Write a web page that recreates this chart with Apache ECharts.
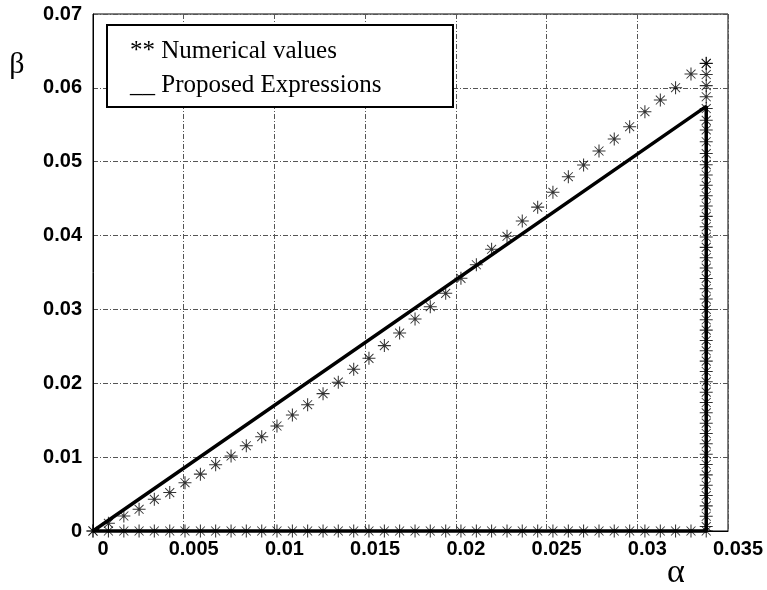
<!DOCTYPE html>
<html>
<head>
<meta charset="utf-8">
<script src="https://cdn.jsdelivr.net/npm/echarts@6/dist/echarts.min.js"></script>
<style>
  html, body { margin: 0; padding: 0; background: #fff; }
  #chart { width: 767px; height: 590px; }
</style>
</head>
<body>
<div id="chart"></div>
<script>
// alpha sample positions shared by the numerical curve and the bottom edge
const alphaSamples = [0, 0.00085, 0.0017, 0.00254, 0.00338, 0.00423, 0.00507, 0.00592, 0.00676, 0.00761,
  0.00845, 0.0093, 0.01014, 0.01099, 0.01183, 0.01268, 0.01352, 0.01437, 0.01521, 0.01606,
  0.0169, 0.01775, 0.01859, 0.01944, 0.02028, 0.02113, 0.02197, 0.02282, 0.02366, 0.02451,
  0.02535, 0.0262, 0.02704, 0.02789, 0.02873, 0.02958, 0.03042, 0.03127, 0.03211, 0.03296, 0.0338];

// numerical beta values along the upper boundary
const betaNumerical = [0, 0.00104, 0.00203, 0.00294, 0.00429, 0.0052, 0.00654, 0.0077, 0.00898, 0.01015,
  0.01155, 0.01277, 0.01422, 0.01571, 0.0171, 0.0186, 0.02015, 0.02189, 0.02338, 0.0251,
  0.0268, 0.0287, 0.03037, 0.03218, 0.03421, 0.03605, 0.03814, 0.0399, 0.04197, 0.04385,
  0.04586, 0.04797, 0.04955, 0.05145, 0.05307, 0.05474, 0.05677, 0.05835, 0.06002, 0.06187, 0.06332];

// numerical points on the right edge (alpha = alphaMax)
const alphaMax = 0.0338;
const betaRightEdge = [0.0633, 0.0618, 0.0603, 0.0588, 0.0572, 0.0556, 0.0543, 0.0527, 0.0511, 0.0496,
  0.0482, 0.0468, 0.0454, 0.044, 0.0426, 0.0412, 0.0398, 0.0384, 0.037, 0.0356,
  0.0342, 0.0328, 0.0314, 0.03, 0.0286, 0.0272, 0.0258, 0.0244, 0.023, 0.0216,
  0.0202, 0.0188, 0.0174, 0.016, 0.0146, 0.0132, 0.0118, 0.0104, 0.009, 0.0076,
  0.0062, 0.0048, 0.0034, 0.002, 0.0006];

// proposed expression: closed boundary
const proposedAlpha = [0, 0.0338, 0.0338, 0];
const proposedBeta = [0, 0.0575, 0, 0];

// axis ranges and tick steps
const xTicks = { min: 0, max: 0.035, step: 0.005 };
const yTicks = { min: 0, max: 0.07, step: 0.01 };

const numericalPoints = [];
alphaSamples.forEach((a, i) => numericalPoints.push([a, betaNumerical[i]]));
alphaSamples.forEach(a => numericalPoints.push([a, 0]));
betaRightEdge.forEach(b => numericalPoints.push([alphaMax, b]));

const proposedPoints = proposedAlpha.map((a, i) => [a, proposedBeta[i]]);

// eight-armed asterisk marker
const starPath = 'path://M0 9.2L20 9.2L20 10.8L0 10.8Z' +
  'M9.2 0L10.8 0L10.8 20L9.2 20Z' +
  'M3.6 2.6L17.4 16.4L16.4 17.4L2.6 3.6Z' +
  'M16.4 2.6L17.4 3.6L3.6 17.4L2.6 16.4Z' +
  'M7.8 7.8L12.2 7.8L12.2 12.2L7.8 12.2Z';

const gridLine = { color: '#555', width: 1, type: [5, 2, 1, 2] };
const tickFont = { fontFamily: '"Liberation Sans", Arial, sans-serif', fontSize: 20, fontWeight: 'bold', color: '#000' };

const chart = echarts.init(document.getElementById('chart'), null, { renderer: 'canvas' });
chart.setOption({
  animation: false,
  backgroundColor: '#fff',
  grid: {
    left: 93, top: 14, right: 39, bottom: 59,
    show: true, borderColor: '#000', borderWidth: 1, backgroundColor: 'transparent'
  },
  xAxis: {
    type: 'value', min: xTicks.min, max: xTicks.max, interval: xTicks.step,
    axisLine: { show: true, lineStyle: { color: '#000', width: 1 } },
    axisTick: { show: false },
    splitLine: { show: true, lineStyle: gridLine },
    axisLabel: Object.assign({ margin: 8, padding: [0, 0, 0, 20] }, tickFont)
  },
  yAxis: {
    type: 'value', min: yTicks.min, max: yTicks.max, interval: yTicks.step,
    axisLine: { show: true, lineStyle: { color: '#000', width: 1 } },
    axisTick: { show: false },
    splitLine: { show: true, lineStyle: gridLine },
    axisLabel: Object.assign({ margin: 11 }, tickFont)
  },
  series: [
    {
      name: 'Proposed Expressions',
      type: 'line',
      data: proposedPoints,
      showSymbol: false,
      clip: false,
      lineStyle: { color: '#000', width: 3.5 },
      z: 3
    },
    {
      name: 'Numerical values',
      type: 'scatter',
      data: numericalPoints,
      symbol: starPath,
      symbolSize: 13,
      clip: false,
      itemStyle: { color: '#000' },
      z: 4
    }
  ],
  graphic: [
    {
      type: 'rect', z: 100,
      shape: { x: 107, y: 25, width: 346, height: 82 },
      style: { fill: '#fff', stroke: '#000', lineWidth: 2 }
    },
    {
      type: 'text', z: 101, x: 130, y: 51,
      style: { text: '** Numerical values', font: '25px "Liberation Serif"', fill: '#000', verticalAlign: 'middle' }
    },
    {
      type: 'text', z: 101, x: 130, y: 85,
      style: { text: '__ Proposed Expressions', font: '25px "Liberation Serif"', fill: '#000', verticalAlign: 'middle' }
    },
    {
      type: 'text', z: 101, x: 676, y: 573,
      style: { text: 'α', font: '34px "Liberation Serif"', fill: '#000', align: 'center', verticalAlign: 'middle' }
    },
    {
      type: 'text', z: 101, x: 17, y: 65,
      style: { text: 'β', font: '30px "Liberation Serif"', fill: '#000', align: 'center', verticalAlign: 'middle' }
    }
  ]
});
</script>
</body>
</html>
